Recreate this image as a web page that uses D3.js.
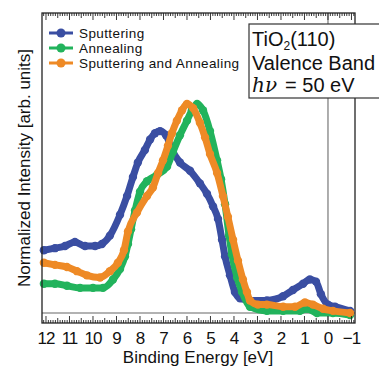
<!DOCTYPE html>
<html>
<head>
<meta charset="utf-8">
<script src="https://cdn.jsdelivr.net/npm/d3@7"></script>
<style>
  body { margin: 0; background: #fff; }
  text { font-family: "Liberation Sans", "DejaVu Sans", sans-serif; fill: #111; }
</style>
</head>
<body>
<svg id="chart" width="379" height="368"></svg>
<script>
// binding energy [eV] and normalized intensity
var sputE = [12.09, 11.62, 11.19, 10.77, 10.34, 9.91, 9.62, 9.28, 8.85, 8.55, 8.30, 8.09, 7.79, 7.57, 7.36, 7.15, 6.89, 6.64, 6.30, 5.87, 5.45, 5.15, 4.89, 4.68, 4.51, 4.38, 4.17, 3.96, 3.74, 3.32, 2.60, 1.91, 1.49, 1.06, 0.77, 0.51, 0.30, 0.00, -0.30, -0.94];
var sputI = [0.30, 0.31, 0.32, 0.34, 0.32, 0.32, 0.33, 0.37, 0.47, 0.56, 0.65, 0.72, 0.78, 0.83, 0.86, 0.87, 0.85, 0.78, 0.72, 0.68, 0.62, 0.57, 0.51, 0.45, 0.35, 0.27, 0.18, 0.10, 0.07, 0.06, 0.06, 0.08, 0.11, 0.14, 0.16, 0.15, 0.09, 0.04, 0.03, 0.01];

var annE = [12.09, 11.62, 11.11, 10.55, 10.00, 9.57, 9.15, 8.85, 8.64, 8.51, 8.38, 8.21, 8.00, 7.70, 7.28, 6.85, 6.60, 6.30, 6.00, 5.79, 5.57, 5.32, 5.02, 4.72, 4.55, 4.38, 4.21, 4.09, 3.87, 3.66, 3.32, 2.60, 1.91, 1.19, 0.89, 0.47, -0.21, -0.94];
var annI = [0.14, 0.14, 0.13, 0.12, 0.12, 0.12, 0.16, 0.21, 0.27, 0.33, 0.40, 0.49, 0.58, 0.63, 0.66, 0.70, 0.77, 0.85, 0.92, 0.97, 1.00, 0.97, 0.87, 0.73, 0.64, 0.52, 0.37, 0.28, 0.17, 0.10, 0.03, 0.01, 0.01, 0.01, 0.02, 0.00, 0.00, -0.01];

var bothE = [12.09, 11.62, 11.11, 10.68, 10.26, 9.70, 9.28, 8.94, 8.68, 8.51, 8.13, 7.70, 7.45, 7.23, 7.02, 6.81, 6.64, 6.43, 6.21, 6.00, 5.74, 5.45, 5.23, 5.02, 4.72, 4.47, 4.26, 4.04, 3.83, 3.62, 3.45, 3.32, 2.98, 2.60, 1.91, 1.40, 0.98, 0.64, 0.21, -0.21, -0.94];
var bothI = [0.24, 0.23, 0.22, 0.20, 0.18, 0.17, 0.20, 0.24, 0.30, 0.39, 0.48, 0.56, 0.60, 0.67, 0.73, 0.80, 0.86, 0.92, 0.97, 1.00, 0.98, 0.91, 0.84, 0.76, 0.67, 0.56, 0.46, 0.35, 0.25, 0.16, 0.10, 0.06, 0.04, 0.04, 0.03, 0.03, 0.05, 0.04, 0.02, 0.01, 0.00];

var seriesNames = ["Sputtering", "Annealing", "Sputtering and Annealing"];
var seriesColors = ["#3a4ea2", "#22b35c", "#ee8a26"];
var xTicks = [12, 11, 10, 9, 8, 7, 6, 5, 4, 3, 2, 1, 0, -1];

var series = [
  { name: seriesNames[0], color: seriesColors[0], e: sputE, v: sputI },
  { name: seriesNames[1], color: seriesColors[1], e: annE, v: annI },
  { name: seriesNames[2], color: seriesColors[2], e: bothE, v: bothI }
];

var padL = 42, padR = 355, padT = 13, padB = 323;
var svg = d3.select("#chart");

// scales
var x = d3.scaleLinear().domain([12.17, -1.15]).range([padL, padR]);
var y = d3.scaleLinear().domain([-0.048, 1.435]).range([padB, padT]);

// zero lines
svg.append("line")
  .attr("x1", padL).attr("x2", padR)
  .attr("y1", y(0)).attr("y2", y(0))
  .attr("stroke", "#999").attr("stroke-width", 1.6);
svg.append("line")
  .attr("x1", x(0)).attr("x2", x(0))
  .attr("y1", padT).attr("y2", padB)
  .attr("stroke", "#999").attr("stroke-width", 1.6);

// curves: thick line + round markers
var line = d3.line()
  .x(function(d) { return x(d[0]); })
  .y(function(d) { return y(d[1]); })
  .curve(d3.curveMonotoneX);

series.forEach(function(s) {
  var pts = s.e.map(function(e, i) { return [e, s.v[i]]; });
  var g = svg.append("g");
  g.append("path")
    .datum(pts)
    .attr("d", line)
    .attr("fill", "none")
    .attr("stroke", s.color)
    .attr("stroke-width", 7)
    .attr("stroke-linejoin", "round")
    .attr("stroke-linecap", "round");
  g.selectAll("circle")
    .data(pts)
    .enter().append("circle")
    .attr("cx", function(d) { return x(d[0]); })
    .attr("cy", function(d) { return y(d[1]); })
    .attr("r", 4.2)
    .attr("fill", s.color);
});

// ticks every 0.1 eV on bottom and top
var minor = d3.range(-11, 122).map(function(i) { return i / 10; });
function tickLen(t) {
  var k = Math.round(t * 10);
  if (k % 10 === 0) return 7;
  if (k % 5 === 0) return 5;
  return 3;
}
svg.append("g").selectAll("line")
  .data(minor).enter().append("line")
  .attr("x1", function(d) { return x(d); }).attr("x2", function(d) { return x(d); })
  .attr("y1", padB).attr("y2", function(d) { return padB - tickLen(d); })
  .attr("stroke", "#222").attr("stroke-width", 0.9);
svg.append("g").selectAll("line")
  .data(minor).enter().append("line")
  .attr("x1", function(d) { return x(d); }).attr("x2", function(d) { return x(d); })
  .attr("y1", padT).attr("y2", function(d) { return padT + tickLen(d); })
  .attr("stroke", "#222").attr("stroke-width", 0.9);

// frame
svg.append("rect")
  .attr("x", padL).attr("y", padT)
  .attr("width", padR - padL).attr("height", padB - padT)
  .attr("fill", "none").attr("stroke", "#222").attr("stroke-width", 1.3);

// tick labels
svg.append("g").selectAll("text")
  .data(xTicks).enter().append("text")
  .attr("x", function(d) { return x(d); })
  .attr("y", 344)
  .attr("text-anchor", "middle")
  .style("font-size", "17px")
  .style("letter-spacing", "-1px")
  .text(function(d) { return d < 0 ? "\u2212" + (-d) : d; });

// axis titles
svg.append("text")
  .attr("x", 198).attr("y", 363)
  .attr("text-anchor", "middle")
  .style("font-size", "17px")
  .text("Binding Energy [eV]");
svg.append("text")
  .attr("transform", "translate(30," + ((padT + padB) / 2) + ") rotate(-90)")
  .attr("text-anchor", "middle")
  .style("font-size", "17px")
  .text("Normalized Intensity  [arb. units]");

// legend
var legend = svg.append("g").selectAll("g")
  .data(series).enter().append("g")
  .attr("transform", function(d, i) { return "translate(49," + (33 + i * 15) + ")"; });
legend.append("line")
  .attr("x1", 0).attr("x2", 24)
  .attr("stroke", function(d) { return d.color; })
  .attr("stroke-width", 3);
legend.append("circle")
  .attr("cx", 12).attr("r", 4.5)
  .attr("fill", function(d) { return d.color; });
legend.append("text")
  .attr("x", 30).attr("y", 4.5)
  .style("font-size", "13.5px")
  .style("letter-spacing", "0.4px")
  .text(function(d) { return d.name; });

// info box
svg.append("rect")
  .attr("x", 249).attr("y", 24)
  .attr("width", 150).attr("height", 74)
  .attr("fill", "#fff").attr("stroke", "#333").attr("stroke-width", 1.2);
var t1 = svg.append("text").attr("x", 252).attr("y", 46).style("font-size", "20px");
t1.append("tspan").text("TiO");
t1.append("tspan").attr("dy", 4).style("font-size", "12px").text("2");
t1.append("tspan").attr("dy", -4).text("(110)");
svg.append("text").attr("x", 252).attr("y", 70).style("font-size", "20px").text("Valence Band");
var t3 = svg.append("text").attr("x", 252).attr("y", 92).style("font-size", "20px");
t3.append("tspan").style("font-style", "italic").style("font-family", "DejaVu Serif").text("h\u03bd");
t3.append("tspan").attr("dx", 8).text("= 50 eV");
</script>
</body>
</html>
